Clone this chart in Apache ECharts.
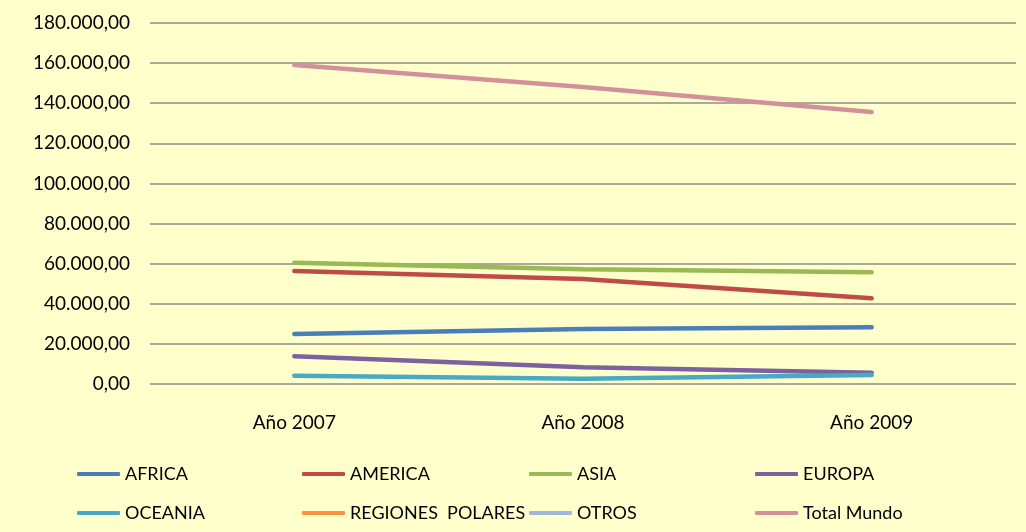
<!DOCTYPE html>
<html>
<head>
<meta charset="utf-8">
<script src="https://cdn.jsdelivr.net/npm/echarts@6/dist/echarts.min.js"></script>
<style>
  html, body { margin: 0; padding: 0; background: #ffffcc; }
  #chart { width: 1026px; height: 532px; }
</style>
</head>
<body>
<div id="chart"></div>
<script>
// categorías y valores
const years = ['Año 2007', 'Año 2008', 'Año 2009'];
const seriesNames = ['AFRICA', 'AMERICA', 'ASIA', 'EUROPA', 'OCEANIA', 'REGIONES  POLARES', 'OTROS', 'Total Mundo'];
const africa = [24900, 27400, 28300];
const america = [56300, 52300, 42700];
const asia = [60500, 57200, 55700];
const europa = [13800, 8300, 5600];
const oceania = [4100, 2600, 4500];
const regionesPolares = [];
const otros = [];
const totalMundo = [159000, 148100, 135600];
const yTicks = [0, 20000, 40000, 60000, 80000, 100000, 120000, 140000, 160000, 180000];

const colors = ['#4a7ebb', '#be4b48', '#98b954', '#7d60a0', '#46aac5', '#f69240', '#9db8dc', '#d4909a'];
const values = [africa, america, asia, europa, oceania, regionesPolares, otros, totalMundo];

// posiciones de la leyenda (4 columnas, 2 filas)
const legendX = [77, 302, 529, 755];
const legendY = [465, 504];

const fmt = v => {
  const s = Math.round(v).toString().replace(/\B(?=(\d{3})+(?!\d))/g, '.');
  return s + ',00';
};

const chart = echarts.init(document.getElementById('chart'));
const option = {
  backgroundColor: '#ffffcc',
  animation: false,
  textStyle: { fontFamily: 'Lato', color: '#000' },
  grid: { left: 150, right: 10, top: 23, bottom: 148 },
  legend: seriesNames.map((n, i) => ({
    data: [n],
    left: legendX[i % 4],
    top: legendY[Math.floor(i / 4)],
    padding: 0,
    icon: 'roundRect',
    itemWidth: 43,
    itemHeight: 4,
    itemGap: 4,
    textStyle: { fontSize: 18, color: '#000', fontFamily: 'Lato' }
  })),
  xAxis: {
    type: 'category',
    data: years,
    boundaryGap: true,
    axisLine: { show: false },
    axisTick: { show: false },
    axisLabel: { fontSize: 19, color: '#000', margin: 29, fontFamily: 'Lato' }
  },
  yAxis: {
    type: 'value',
    min: yTicks[0],
    max: yTicks[yTicks.length - 1],
    interval: 20000,
    axisLine: { show: false },
    axisTick: { show: false },
    axisLabel: { fontSize: 19, color: '#000', margin: 20, formatter: fmt, fontFamily: 'Lato' },
    splitLine: { lineStyle: { color: '#8c8c8c', width: 1.5 } }
  },
  series: seriesNames.map((n, i) => ({
    name: n,
    type: 'line',
    data: values[i],
    color: colors[i],
    symbol: 'none',
    lineStyle: { width: 4.5, color: colors[i], cap: 'round' }
  }))
};
chart.setOption(option);
</script>
</body>
</html>
